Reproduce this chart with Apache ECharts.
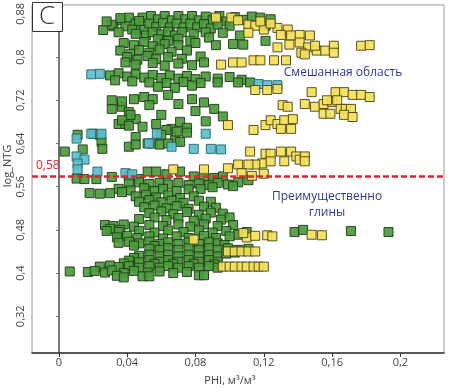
<!DOCTYPE html>
<html>
<head>
<meta charset="utf-8">
<script src="https://cdn.jsdelivr.net/npm/echarts@6/dist/echarts.min.js"></script>
<style>
  html, body { margin: 0; padding: 0; background: #fff; }
  #chart { width: 449px; height: 389px; }
</style>
</head>
<body>
<div id="chart"></div>
<script>
// tick labels
var xTicks = [0, 0.04, 0.08, 0.12, 0.16, 0.2];
var yTicks = [0.32, 0.4, 0.48, 0.56, 0.64, 0.72, 0.8, 0.88];
var cutoff = 0.58;

// green points [PHI, log_NTG]
var greenPts = [
  [0.032,0.857],[0.037,0.868],[0.041,0.873],[0.045,0.862],[0.049,0.873],[0.039,0.857],[0.043,0.851],[0.050,0.851],
  [0.054,0.876],[0.058,0.870],[0.062,0.876],[0.066,0.868],[0.070,0.876],[0.074,0.870],[0.078,0.876],[0.082,0.868],
  [0.086,0.875],[0.090,0.868],[0.094,0.876],[0.098,0.866],[0.103,0.874],[0.108,0.869],[0.113,0.875],[0.118,0.873],[0.124,0.870],
  [0.053,0.862],[0.057,0.856],[0.061,0.863],[0.065,0.855],[0.069,0.862],[0.073,0.855],[0.077,0.862],[0.081,0.855],
  [0.085,0.861],[0.089,0.853],[0.093,0.860],[0.100,0.858],[0.121,0.858],[0.031,0.860],[0.036,0.872],
  [0.026,0.850],[0.028,0.866],[0.047,0.867],[0.035,0.846],
  [0.045,0.843],[0.051,0.840],[0.055,0.846],[0.060,0.842],[0.064,0.847],[0.068,0.840],[0.072,0.846],[0.079,0.843],
  [0.086,0.846],[0.096,0.845],[0.106,0.840],[0.108,0.823],[0.121,0.830],
  [0.058,0.833],[0.064,0.830],[0.070,0.834],[0.077,0.830],[0.088,0.836],
  [0.038,0.826],[0.044,0.822],[0.050,0.828],[0.055,0.820],[0.062,0.824],[0.070,0.822],[0.080,0.826],[0.092,0.822],[0.102,0.824],
  [0.036,0.812],[0.042,0.806],[0.047,0.813],[0.053,0.808],[0.059,0.814],[0.066,0.810],[0.075,0.812],
  [0.040,0.800],[0.046,0.795],[0.052,0.802],[0.057,0.796],[0.064,0.800],[0.072,0.797],[0.083,0.801],
  [0.039,0.790],[0.045,0.786],[0.055,0.789],[0.062,0.784],[0.070,0.788],[0.078,0.785],[0.085,0.790],
  [0.030,0.766],[0.035,0.770],[0.040,0.764],[0.045,0.768],[0.050,0.762],[0.055,0.767],[0.060,0.761],[0.065,0.766],
  [0.070,0.760],[0.075,0.765],[0.080,0.759],[0.086,0.764],[0.093,0.760],[0.100,0.763],[0.107,0.758],
  [0.033,0.757],[0.043,0.755],[0.053,0.753],[0.063,0.752],[0.073,0.754],[0.083,0.752],[0.093,0.753],[0.105,0.753],[0.112,0.753],
  [0.058,0.745],[0.068,0.743],[0.078,0.747],
  [0.044,0.722],[0.050,0.726],[0.055,0.722],[0.064,0.730],[0.070,0.713],[0.031,0.704],[0.037,0.708],[0.041,0.698],
  [0.045,0.685],[0.053,0.711],[0.060,0.693],[0.057,0.676],[0.035,0.676],[0.039,0.676],[0.049,0.671],[0.066,0.667],
  [0.063,0.665],[0.071,0.680],[0.045,0.652],[0.060,0.656],[0.068,0.647],[0.055,0.640],[0.059,0.638],[0.071,0.643],
  [0.041,0.634],[0.031,0.720],[0.037,0.718],[0.042,0.693],[0.037,0.683],[0.041,0.673],
  [0.078,0.722],[0.085,0.716],[0.080,0.700],[0.091,0.704],[0.096,0.690],[0.086,0.681],[0.075,0.669],[0.075,0.660],[0.069,0.662],
  [0.0035,0.625],[0.011,0.656],[0.020,0.658],[0.024,0.656],[0.025,0.643],[0.0255,0.630],[0.014,0.629],
  [0.045,0.638],[0.052,0.640],[0.064,0.640],
  [0.0104,0.575],[0.015,0.574],[0.022,0.574],[0.031,0.578],[0.047,0.574],[0.052,0.588],[0.057,0.588],[0.063,0.583],[0.071,0.588],
  [0.041,0.579],[0.079,0.579],[0.085,0.578],[0.091,0.576],[0.096,0.579],
  [0.041,0.566],[0.047,0.568],[0.053,0.565],[0.059,0.567],[0.064,0.564],[0.070,0.567],[0.076,0.563],[0.082,0.566],
  [0.088,0.563],[0.093,0.567],[0.099,0.564],[0.105,0.568],[0.111,0.572],
  [0.035,0.556],[0.042,0.553],[0.050,0.557],[0.056,0.552],[0.061,0.556],[0.069,0.552],[0.076,0.555],[0.083,0.556],[0.090,0.559],[0.102,0.561],
  [0.018,0.548],[0.024,0.547],[0.030,0.548],[0.037,0.550],
  [0.045,0.542],[0.051,0.545],[0.057,0.540],[0.064,0.544],[0.071,0.539],[0.079,0.542],
  [0.047,0.532],[0.053,0.535],[0.060,0.531],[0.066,0.534],[0.073,0.530],[0.082,0.534],[0.089,0.532],
  [0.050,0.522],[0.056,0.525],[0.063,0.520],[0.069,0.524],[0.076,0.519],[0.085,0.523],[0.092,0.521],
  [0.053,0.511],[0.060,0.514],[0.067,0.509],[0.075,0.513],[0.082,0.508],[0.089,0.512],[0.096,0.510],
  [0.047,0.500],[0.056,0.503],[0.063,0.498],[0.070,0.502],[0.079,0.497],[0.086,0.501],[0.095,0.499],[0.100,0.503],
  [0.027,0.489],[0.032,0.487],[0.038,0.490],[0.044,0.486],[0.053,0.489],[0.061,0.487],[0.070,0.490],[0.077,0.486],
  [0.085,0.490],[0.093,0.487],[0.102,0.489],[0.030,0.482],[0.036,0.480],
  [0.028,0.478],[0.035,0.476],[0.047,0.478],[0.056,0.475],[0.064,0.479],[0.073,0.476],[0.082,0.479],[0.090,0.475],
  [0.098,0.478],[0.105,0.471],[0.110,0.476],
  [0.138,0.476],[0.143,0.480],[0.171,0.478],[0.193,0.476],
  [0.034,0.466],[0.040,0.469],[0.046,0.465],[0.053,0.468],[0.061,0.464],[0.069,0.468],[0.076,0.465],[0.085,0.469],[0.092,0.465],[0.100,0.468],
  [0.035,0.456],[0.041,0.458],[0.047,0.455],[0.053,0.458],[0.059,0.454],[0.064,0.457],[0.070,0.454],[0.076,0.457],
  [0.082,0.454],[0.088,0.457],[0.093,0.455],[0.097,0.452],[0.044,0.451],[0.056,0.450],
  [0.053,0.445],[0.059,0.443],[0.064,0.446],[0.070,0.443],[0.076,0.446],[0.082,0.443],[0.088,0.446],[0.093,0.443],
  [0.099,0.446],[0.105,0.443],[0.111,0.445],
  [0.047,0.432],[0.053,0.434],[0.059,0.431],[0.064,0.434],[0.070,0.431],[0.076,0.434],[0.082,0.431],[0.088,0.434],[0.093,0.431],
  [0.098,0.436],[0.103,0.438],[0.044,0.428],
  [0.041,0.423],[0.047,0.420],[0.053,0.424],[0.059,0.421],[0.064,0.424],[0.070,0.421],[0.076,0.424],[0.082,0.421],[0.088,0.424],[0.093,0.421],
  [0.038,0.418],[0.056,0.417],[0.067,0.417],[0.079,0.417],[0.091,0.416],
  [0.024,0.412],[0.030,0.414],[0.035,0.411],[0.041,0.413],[0.047,0.410],[0.053,0.413],[0.059,0.410],[0.064,0.413],
  [0.070,0.410],[0.076,0.413],[0.082,0.410],[0.088,0.413],[0.093,0.410],
  [0.0064,0.403],[0.017,0.402],[0.021,0.404],[0.027,0.401],[0.031,0.405],[0.038,0.400],[0.044,0.404],[0.052,0.401],
  [0.059,0.403],[0.067,0.400],[0.075,0.402],
  [0.034,0.395],[0.038,0.392],[0.049,0.394],[0.053,0.394],[0.082,0.396],[0.085,0.396]
];

// yellow points
var yellowPts = [
  [0.092,0.873],[0.101,0.873],[0.111,0.860],[0.115,0.858],[0.120,0.851],[0.111,0.845],[0.128,0.854],[0.134,0.851],
  [0.130,0.841],[0.136,0.840],[0.141,0.841],[0.147,0.840],[0.135,0.823],[0.141,0.827],[0.146,0.818],[0.142,0.808],
  [0.144,0.805],[0.151,0.812],[0.156,0.812],[0.161,0.821],[0.128,0.818],[0.177,0.821],[0.182,0.822],[0.150,0.821],
  [0.161,0.808],[0.118,0.866],[0.124,0.862],[0.105,0.868],
  [0.095,0.786],[0.102,0.790],[0.107,0.790],[0.114,0.794],[0.118,0.794],[0.126,0.794],[0.133,0.794],
  [0.115,0.739],[0.122,0.739],[0.128,0.741],[0.148,0.735],[0.162,0.735],[0.167,0.735],[0.172,0.730],[0.177,0.730],[0.182,0.726],
  [0.144,0.713],[0.150,0.708],[0.155,0.713],[0.160,0.717],[0.163,0.720],[0.165,0.704],[0.168,0.704],[0.171,0.704],
  [0.155,0.695],[0.159,0.695],[0.167,0.693],[0.172,0.689],[0.131,0.711],[0.134,0.708],[0.157,0.720],
  [0.121,0.674],[0.124,0.683],[0.128,0.676],[0.132,0.683],[0.137,0.685],[0.130,0.667],[0.136,0.667],[0.114,0.665],[0.099,0.674],
  [0.112,0.625],[0.121,0.621],[0.124,0.621],[0.130,0.625],[0.136,0.625],[0.119,0.603],[0.115,0.601],[0.111,0.601],
  [0.124,0.607],[0.132,0.607],[0.139,0.616],[0.141,0.610],[0.144,0.616],[0.144,0.607],
  [0.067,0.592],[0.085,0.592],[0.099,0.594],[0.105,0.601],[0.107,0.585],[0.113,0.580],[0.120,0.584],
  [0.110,0.466],[0.115,0.469],[0.122,0.470],[0.125,0.468],[0.148,0.471],[0.154,0.470],[0.079,0.462],[0.108,0.474],
  [0.099,0.440],[0.103,0.440],[0.107,0.440],[0.111,0.440],[0.115,0.440],
  [0.096,0.412],[0.100,0.412],[0.103,0.412],[0.107,0.412],[0.110,0.412],[0.114,0.412],[0.117,0.412],[0.120,0.412]
];

// cyan points
var cyanPts = [
  [0.019,0.768],[0.024,0.769],[0.117,0.750],[0.122,0.748],[0.128,0.748],[0.0574,0.658],[0.0104,0.649],[0.019,0.658],
  [0.025,0.658],[0.066,0.634],[0.0528,0.640],[0.079,0.630],[0.089,0.630],[0.095,0.629],[0.086,0.658],[0.0104,0.616],
  [0.015,0.610],[0.011,0.603],[0.011,0.592],[0.0226,0.588],[0.039,0.585],[0.043,0.583]
];

var chart = echarts.init(document.getElementById('chart'));

function fmt(v) {
  return String(+v.toFixed(2)).replace('.', ',');
}

function sq(data, fill, border) {
  return {
    type: 'scatter',
    data: data,
    symbol: 'rect',
    symbolSize: 9,
    itemStyle: { color: fill, borderColor: border, borderWidth: 1, opacity: 0.92 },
    animation: false
  };
}

var greenSeries = sq(greenPts, '#4c9a3c', '#1f3d18');
greenSeries.markLine = {
  silent: true,
  symbol: 'none',
  animation: false,
  data: [{ yAxis: cutoff }],
  lineStyle: { color: '#e3252b', type: [6, 3], width: 2.5 },
  label: {
    show: true,
    position: 'insideStartTop',
    formatter: '0,58',
    color: '#e3252b',
    fontSize: 12,
    fontFamily: 'Open Sans',
    distance: [4, 4]
  }
};

var option = {
  backgroundColor: '#fff',
  grid: {
    left: 32, right: 5, top: 2, bottom: 36,
    show: true, borderColor: '#9a9a9a', borderWidth: 1
  },
  xAxis: {
    type: 'value',
    min: -0.0157,
    max: 0.2255,
    axisLine: { show: true, lineStyle: { color: '#333', width: 1.5 } },
    axisTick: { show: true, length: 4, customValues: xTicks, lineStyle: { color: '#333' } },
    axisLabel: {
      customValues: xTicks, formatter: fmt, color: '#444',
      fontSize: 11, fontFamily: 'Open Sans', margin: 4
    },
    splitLine: { show: false }
  },
  yAxis: {
    type: 'value',
    min: 0.252,
    max: 0.8965,
    axisLine: { show: true, lineStyle: { color: '#777', width: 2 } },
    axisTick: { show: true, length: 3, customValues: yTicks, lineStyle: { color: '#777' } },
    axisLabel: {
      customValues: yTicks, formatter: fmt, color: '#444', rotate: 90,
      fontSize: 11, fontFamily: 'Open Sans', margin: 6
    },
    splitLine: { show: false }
  },
  graphic: [
    { type: 'rect', left: 32, top: 2, shape: { width: 30, height: 29 },
      style: { fill: '#fff', stroke: '#333', lineWidth: 1 }, z: 100 },
    { type: 'text', x: 47, y: 17, z: 101,
      style: { text: 'C', font: '300 26px "Open Sans"', fill: '#333', align: 'center', verticalAlign: 'middle' } },
    { type: 'text', x: 343, y: 73, z: 101,
      style: { text: 'Смешанная область', font: '12px "Open Sans"', fill: '#2e3a8c', align: 'center', verticalAlign: 'middle' } },
    { type: 'text', x: 327, y: 197, z: 101,
      style: { text: 'Преимущественно', font: '12px "Open Sans"', fill: '#2e3a8c', align: 'center', verticalAlign: 'middle' } },
    { type: 'text', x: 327, y: 213, z: 101,
      style: { text: 'глины', font: '12px "Open Sans"', fill: '#2e3a8c', align: 'center', verticalAlign: 'middle' } },
    { type: 'text', x: 8, y: 166, rotation: Math.PI / 2, z: 101,
      style: { text: 'log_NTG', font: '11px "Open Sans"', fill: '#444', align: 'center', verticalAlign: 'middle' } },
    { type: 'text', x: 230, y: 381, z: 101,
      style: { text: 'PHI, м³/м³', font: '11px "Open Sans"', fill: '#444', align: 'center', verticalAlign: 'middle' } }
  ],
  series: [
    greenSeries,
    sq(cyanPts, '#5bbdcb', '#2a6670'),
    sq(yellowPts, '#f3e15a', '#4e4413')
  ]
};

chart.setOption(option);
</script>
</body>
</html>
